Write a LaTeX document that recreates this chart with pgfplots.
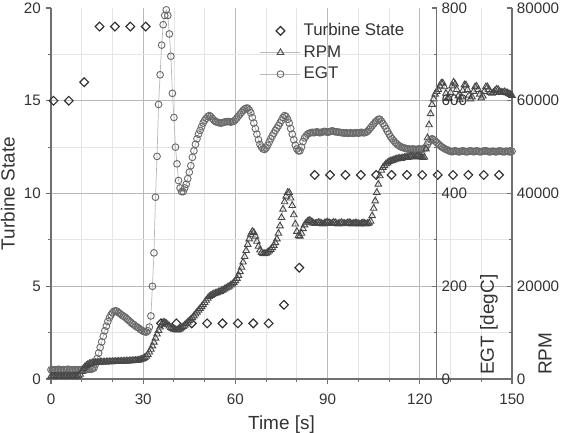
\documentclass[border=0pt]{standalone}
\usepackage{fontspec}
\setmainfont{Liberation Sans}
\usepackage{pgfplots}
\pgfplotsset{compat=1.18}
\usepackage{pgfplotstable}
\definecolor{axisgray}{HTML}{707070}
\definecolor{txtgray}{HTML}{333333}
\definecolor{egtc}{HTML}{6A6A6A}
\definecolor{rpmc}{HTML}{474747}
\definecolor{tsc}{HTML}{303030}

\pgfplotstableread[row sep=\\]{
t egt rpm\\
0 20 600\\ 0.5 20 620\\ 1 19 600\\ 1.5 20 580\\ 2 20 600\\ 2.5 21 620\\ 3 20 600\\ 3.5 19 600\\ 4 20 580\\ 4.5 20 600\\
5 20 620\\ 5.5 21 600\\ 6 20 600\\ 6.5 20 580\\ 7 19 600\\ 7.5 20 620\\ 8 20 600\\ 8.5 20 640\\ 9 20 700\\ 9.5 20 1000\\
10 20 1600\\ 10.5 20 2200\\ 11 20 2600\\ 11.5 20 2880\\ 12 21 3120\\ 12.5 21 3280\\ 13 21 3400\\ 13.5 22 3480\\ 14 24 3520\\ 14.5 32 3560\\
15 44 3580\\ 15.5 56 3600\\ 16 68 3620\\ 16.5 80 3640\\ 17 92 3650\\ 17.5 104 3670\\ 18 114 3680\\ 18.5 124 3700\\ 19 132 3710\\ 19.5 138 3720\\
20 143 3740\\ 20.5 146 3750\\ 21 147 3760\\ 21.5 146 3780\\ 22 143 3790\\ 22.5 141 3800\\ 23 138 3820\\ 23.5 136 3830\\ 24 134 3850\\ 24.5 131 3860\\
25 128 3880\\ 25.5 125 3900\\ 26 122 3920\\ 26.5 119 3940\\ 27 117 3960\\ 27.5 114 3990\\ 28 112 4020\\ 28.5 110 4050\\ 29 107 4160\\ 29.5 105 4260\\
30 103 4400\\ 30.5 102 4600\\ 31 101 4880\\ 31.5 104 5280\\ 32 112 5800\\ 32.5 136 6400\\ 33 200 7120\\ 33.5 272 7920\\ 34 392 8800\\ 34.5 480 9680\\
35 592 10480\\ 35.5 656 11200\\ 36 720 11800\\ 36.5 764 12200\\ 37 784 12200\\ 37.5 796 12000\\ 38 784 11680\\ 38.5 744 11400\\ 39 696 11120\\ 39.5 616 10880\\
40 564 10720\\ 40.5 500 10600\\ 41 464 10560\\ 41.5 428 10640\\ 42 412 10800\\ 42.5 404 11040\\ 43 404 11320\\ 43.5 412 11600\\ 44 420 11920\\ 44.5 432 12240\\
45 446 12560\\ 45.5 460 12880\\ 46 478 13200\\ 46.5 492 13600\\ 47 506 14000\\ 47.5 518 14400\\ 48 528 14800\\ 48.5 536 15200\\ 49 544 15600\\ 49.5 552 16000\\
50 558 16480\\ 50.5 562 16960\\ 51 566 17400\\ 51.5 568 17760\\ 52 566 18000\\ 52.5 562 18200\\ 53 558 18360\\ 53.5 555 18480\\ 54 554 18600\\ 54.5 553 18760\\
55 552 18880\\ 55.5 552 19040\\ 56 553 19200\\ 56.5 554 19400\\ 57 555 19600\\ 57.5 555 19800\\ 58 555 20000\\ 58.5 554 20240\\ 59 555 20480\\ 59.5 556 20800\\
60 559 21200\\ 60.5 563 21680\\ 61 567 22320\\ 61.5 571 23120\\ 62 575 24080\\ 62.5 579 25200\\ 63 582 26400\\ 63.5 584 27680\\ 64 584 29000\\ 64.5 580 30200\\
65 574 31200\\ 65.5 564 31800\\ 66 552 31600\\ 66.5 540 30800\\ 67 528 29680\\ 67.5 516 28600\\ 68 506 27800\\ 68.5 500 27280\\ 69 496 27040\\ 69.5 495 27000\\
70 498 27120\\ 70.5 504 27320\\ 71 511 27600\\ 71.5 518 27920\\ 72 524 28320\\ 72.5 530 28800\\ 73 536 29400\\ 73.5 541 30200\\ 74 546 31400\\ 74.5 552 33000\\
75 558 34800\\ 75.5 564 36600\\ 76 568 38200\\ 76.5 566 39400\\ 77 560 40200\\ 77.5 552 40200\\ 78 540 39000\\ 78.5 528 37400\\ 79 516 35400\\ 79.5 504 33400\\
80 496 31800\\ 80.5 492 30880\\ 81 492 30800\\ 81.5 500 31400\\ 82 512 32400\\ 82.5 520 33200\\ 83 524 33680\\ 83.5 528 34000\\ 84 530 34200\\ 84.5 531 34080\\
85 532 33800\\ 85.5 531 33600\\ 86 532 33520\\ 86.5 533 33600\\ 87 532 33760\\ 87.5 531 33680\\ 88 532 33520\\ 88.5 533 33440\\ 89 534 33600\\ 89.5 533 33760\\
90 532 33840\\ 90.5 533 33680\\ 91 534 33520\\ 91.5 535 33600\\ 92 534 33760\\ 92.5 533 33680\\ 93 533 33520\\ 93.5 532 33440\\ 94 532 33600\\ 94.5 531 33720\\
95 531 33600\\ 95.5 530 33480\\ 96 531 33520\\ 96.5 530 33640\\ 97 530 33720\\ 97.5 531 33600\\ 98 530 33440\\ 98.5 530 33520\\ 99 531 33640\\ 99.5 531 33600\\
100 530 33480\\ 100.5 531 33400\\ 101 532 33520\\ 101.5 531 33640\\ 102 531 33560\\ 102.5 532 33440\\ 103 534 33520\\ 103.5 538 33640\\ 104 542 34000\\ 104.5 546 35200\\
105 550 36800\\ 105.5 554 38400\\ 106 557 40200\\ 106.5 560 42000\\ 107 560 43800\\ 107.5 556 45000\\ 108 551 45600\\ 108.5 546 46000\\ 109 540 46400\\ 109.5 534 46600\\
110 528 46880\\ 110.5 522 47000\\ 111 518 47120\\ 111.5 514 47200\\ 112 510 47360\\ 112.5 507 47440\\ 113 504 47520\\ 113.5 502 47600\\ 114 500 47560\\ 114.5 499 47680\\
115 498 47760\\ 115.5 497 47840\\ 116 496 47760\\ 116.5 496 47880\\ 117 495 47960\\ 117.5 496 48000\\ 118 496 47920\\ 118.5 495 47840\\ 119 495 47960\\ 119.5 496 48040\\
120 496 47960\\ 120.5 495 47840\\ 121 496 47760\\ 121.5 497 47800\\ 122 500 49600\\ 122.5 506 52000\\ 123 512 54800\\ 123.5 516 57200\\ 124 518 59200\\ 124.5 516 60400\\
125 513 61400\\ 125.5 510 62000\\ 126 507 62400\\ 126.5 504 63200\\ 127 501 63800\\ 127.5 499 63800\\ 128 497 63000\\ 128.5 495 61600\\ 129 494 60480\\ 129.5 492 60600\\
130 491 61800\\ 130.5 490 63200\\ 131 491 64000\\ 131.5 492 63600\\ 132 491 62400\\ 132.5 490 61000\\ 133 490 60200\\ 133.5 491 60800\\ 134 492 62200\\ 134.5 491 63400\\
135 490 63400\\ 135.5 490 62400\\ 136 491 61200\\ 136.5 492 60400\\ 137 491 60800\\ 137.5 490 62000\\ 138 491 63000\\ 138.5 492 63120\\ 139 491 62400\\ 139.5 490 61400\\
140 490 60600\\ 140.5 491 61000\\ 141 492 62000\\ 141.5 492 63000\\ 142 491 63000\\ 142.5 490 62400\\ 143 490 61800\\ 143.5 491 61600\\ 144 491 61800\\ 144.5 490 62200\\
145 490 62480\\ 145.5 491 62400\\ 146 492 62000\\ 146.5 491 61800\\ 147 490 61800\\ 147.5 490 61920\\ 148 491 61800\\ 148.5 491 61680\\ 149 490 61520\\ 149.5 490 61320\\
150 491 61120\\
}\engine

\pgfplotstableread[row sep=\\]{
t state\\
0.8 15\\ 5.8 15\\ 10.8 16\\ 15.8 19\\ 20.8 19\\ 25.8 19\\ 30.8 19\\ 35.8 3\\ 40.8 3\\ 45.8 3\\
50.8 3\\ 55.8 3\\ 60.8 3\\ 65.8 3\\ 70.8 3\\ 75.8 4\\ 80.8 6\\ 85.8 11\\ 90.8 11\\ 95.8 11\\
100.8 11\\ 105.8 11\\ 110.8 11\\ 115.8 11\\ 120.8 11\\ 125.8 11\\ 130.8 11\\ 135.8 11\\ 140.8 11\\ 145.8 11\\
}\tstate

\pgfplotsset{
  common/.style={scale only axis, width=115.25mm, height=92.75mm, xmin=0, xmax=150, clip=false,
    tick label style={font=\fontsize{10.8}{13}\selectfont, text=txtgray},
    label style={font=\fontsize{13.5}{16}\selectfont, text=txtgray, inner sep=0pt},
    axis line style={-, axisgray, line width=0.9pt},
    tick style={axisgray, line width=0.8pt},
    major tick length=1.3mm, minor tick length=0.8mm,
    scaled y ticks=false,
    /pgf/number format/1000 sep={},
    /pgf/number format/assume math mode=true},
  legimg/.style={legend image code/.code={\path[draw=none,fill=none] (0mm,-1.2mm) rectangle (10mm,1.2mm); \draw[mark repeat=2,mark phase=2,##1] plot coordinates {(0mm,0mm)(5mm,0mm)(10mm,0mm)};}},
  egtstyle/.style={gray!55, line width=0.5pt, mark=o, mark size=2.4pt, mark options={draw=egtc, line width=0.65pt, solid}, legimg},
  rpmstyle/.style={gray!55, line width=0.5pt, mark=triangle, mark size=2.7pt, mark options={draw=rpmc, line width=0.65pt, solid}, legimg},
  tsstyle/.style={only marks, mark=square, mark size=2.2pt, mark options={draw=tsc, rotate=45, line width=0.8pt, solid}, legimg},
}

\begin{document}
\begin{tikzpicture}
\useasboundingbox (-12.75mm,-13.25mm) rectangle (130.25mm,94.75mm);

\begin{axis}[common, ymin=0, ymax=20,
  axis x line*=bottom, axis y line*=left,
  xtick={0,30,60,90,120}, extra x ticks={150}, extra x tick style={grid=none},
  minor xtick={10,20,40,50,70,80,100,110,130,140},
  ytick={0,5,10,15}, extra y ticks={20}, extra y tick style={grid=none},
  minor ytick={2.5,7.5,12.5,17.5},
  xticklabel style={yshift=-1.2mm},
  grid=both,
  major grid style={gray!55, line width=0.6pt},
  minor grid style={gray!20, line width=0.6pt},
  tick align=outside,
  xlabel={Time [s]}, ylabel={Turbine State},
  xlabel style={at={(axis description cs:0.5,0)}, anchor=north, yshift=-9.2mm},
  ylabel style={at={(axis description cs:0,0.5)}, anchor=south, yshift=9mm},
  legimg,
  legend cell align=left,
  legend style={at={(axis description cs:0.453,0.966)}, anchor=north west, draw=none, fill=none,
    font=\fontsize{12}{14}\selectfont, text=txtgray, row sep=1.5pt, inner sep=0pt},
]
\addplot[tsstyle] table[x=t, y=state]{\tstate};
\addlegendentry{Turbine State}
\addlegendimage{rpmstyle}
\addlegendentry{RPM}
\addlegendimage{egtstyle}
\addlegendentry{EGT}
\end{axis}

\begin{axis}[common, ymin=0, ymax=800, hide axis]
\addplot[egtstyle] table[x=t, y=egt]{\engine};
\end{axis}

\begin{axis}[common, ymin=0, ymax=80000,
  axis x line=none, axis y line*=right,
  ytick={0,20000,40000,60000,80000}, minor ytick={10000,30000,50000,70000},
  tick align=inside,
  ylabel={RPM},
  ylabel style={at={(axis description cs:1,0)}, anchor=north west, yshift=-6.6mm, xshift=1mm}]
\addplot[rpmstyle] table[x=t, y=rpm]{\engine};
\end{axis}

\begin{axis}[common, width=96.43mm, xmax=125.5, ymin=0, ymax=800,
  axis x line=none, axis y line*=right,
  ytick={0,200,400,600,800}, minor ytick={100,300,500,700},
  tick align=inside,
  ylabel={EGT [degC]},
  ylabel style={at={(axis description cs:1,0)}, anchor=north west, yshift=-10.8mm, xshift=1mm}]
\addplot[draw=none] coordinates {(0,0)};
\end{axis}
\end{tikzpicture}
\end{document}
